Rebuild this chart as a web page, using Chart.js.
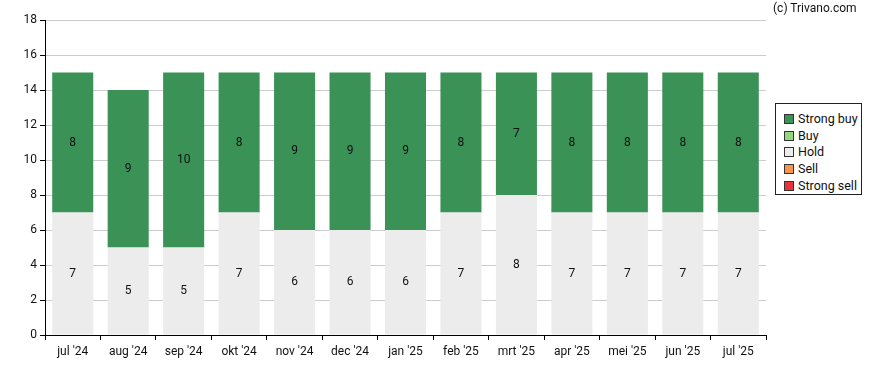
<!DOCTYPE html>
<html>
<head>
    <title>Analist adviezen</title>
    <script src="https://cdn.jsdelivr.net/npm/chart.js"></script>
    <style>
        body {
            margin: 0;
            background: #ffffff;
            font-family: Roboto, sans-serif;
        }
        .wrap {
            position: relative;
            width: 888px;
            height: 370px;
        }
        .copyright {
            position: absolute;
            left: 773px;
            top: 1px;
            font-size: 12px;
            color: #111;
        }
        .legend {
            position: absolute;
            left: 775px;
            top: 103px;
            width: 87px;
            height: 92px;
            border: 1px solid #222;
            background: #fff;
            font-size: 12.5px;
            color: #111;
            box-sizing: border-box;
            padding-top: 7px;
        }
        .legend div {
            height: 16.7px;
            line-height: 16.7px;
            padding-left: 8px;
            white-space: nowrap;
        }
        .legend span {
            display: inline-block;
            width: 8px;
            height: 8px;
            border: 1px solid #333;
            margin-right: 4px;
            vertical-align: -1px;
        }
    </style>
</head>
<body>
    <div class="wrap">
        <canvas id="recChart" width="888" height="370"></canvas>
        <div class="copyright">(c) Trivano.com</div>
        <div class="legend" id="legend"></div>
    </div>

    <script>
        const months = ["jul '24", "aug '24", "sep '24", "okt '24", "nov '24", "dec '24", "jan '25",
                        "feb '25", "mrt '25", "apr '25", "mei '25", "jun '25", "jul '25"];
        const strongBuy = [8, 9, 10, 8, 9, 9, 9, 8, 7, 8, 8, 8, 8];
        const buy = [0, 0, 0, 0, 0, 0, 0, 0, 0, 0, 0, 0, 0];
        const hold = [7, 5, 5, 7, 6, 6, 6, 7, 8, 7, 7, 7, 7];
        const sell = [0, 0, 0, 0, 0, 0, 0, 0, 0, 0, 0, 0, 0];
        const strongSell = [0, 0, 0, 0, 0, 0, 0, 0, 0, 0, 0, 0, 0];

        const legendItems = [
            ['Strong buy', '#3a9257'],
            ['Buy', '#93d67c'],
            ['Hold', '#ececec'],
            ['Sell', '#f7934c'],
            ['Strong sell', '#e8333d']
        ];

        // legend as html
        const legendEl = document.getElementById('legend');
        legendItems.forEach(item => {
            const row = document.createElement('div');
            row.innerHTML = '<span style="background:' + item[1] + '"></span>' + item[0];
            legendEl.appendChild(row);
        });

        // numbers in the middle of each segment
        const segmentLabels = {
            id: 'segmentLabels',
            afterDatasetsDraw(chart) {
                const ctx = chart.ctx;
                ctx.save();
                ctx.font = '12px Roboto';
                ctx.fillStyle = '#111';
                ctx.textAlign = 'center';
                ctx.textBaseline = 'middle';
                chart.data.datasets.forEach((ds, i) => {
                    const meta = chart.getDatasetMeta(i);
                    meta.data.forEach((bar, j) => {
                        const v = ds.data[j];
                        if (!v) return;
                        ctx.fillText(String(v), bar.x, (bar.y + bar.base) / 2);
                    });
                });
                ctx.restore();
            }
        };

        const colorOf = name => legendItems.find(x => x[0] === name)[1];

        new Chart(document.getElementById('recChart'), {
            type: 'bar',
            data: {
                labels: months,
                datasets: [
                    { label: 'Strong sell', data: strongSell, backgroundColor: colorOf('Strong sell') },
                    { label: 'Sell', data: sell, backgroundColor: colorOf('Sell') },
                    { label: 'Hold', data: hold, backgroundColor: colorOf('Hold') },
                    { label: 'Buy', data: buy, backgroundColor: colorOf('Buy') },
                    { label: 'Strong buy', data: strongBuy, backgroundColor: colorOf('Strong buy') }
                ]
            },
            options: {
                responsive: false,
                animation: false,
                layout: {
                    padding: { top: 20, right: 122, bottom: 0, left: 0 }
                },
                datasets: {
                    bar: {
                        barPercentage: 0.74,
                        categoryPercentage: 1
                    }
                },
                plugins: {
                    legend: { display: false },
                    tooltip: { enabled: false }
                },
                scales: {
                    x: {
                        stacked: true,
                        afterFit: scale => { scale.height = 35; },
                        grid: {
                            drawOnChartArea: false,
                            tickLength: 5,
                            tickColor: '#000'
                        },
                        border: { color: '#000', width: 1 },
                        ticks: {
                            color: '#111',
                            font: { family: 'Roboto', size: 12 },
                            padding: 5,
                            maxRotation: 0
                        }
                    },
                    y: {
                        stacked: true,
                        min: 0,
                        max: 18,
                        afterFit: scale => { scale.width = 45; },
                        grid: {
                            color: '#cccccc',
                            tickLength: 5,
                            tickColor: '#000'
                        },
                        border: { color: '#000', width: 1 },
                        ticks: {
                            stepSize: 2,
                            color: '#111',
                            font: { family: 'Roboto', size: 12 },
                            padding: 3
                        }
                    }
                }
            },
            plugins: [segmentLabels]
        });
    </script>
</body>
</html>
